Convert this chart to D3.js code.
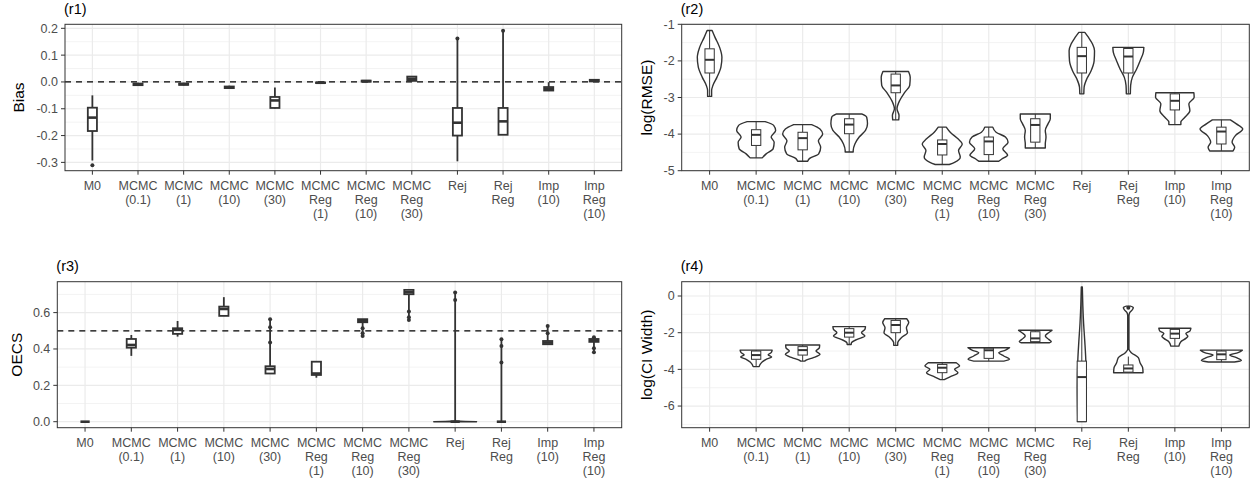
<!DOCTYPE html>
<html>
<head>
<meta charset="utf-8">
<script src="https://cdn.jsdelivr.net/npm/d3@7"></script>
<style>
body { margin: 0; background: #fff; }
svg { display: block; font-family: "Liberation Sans", Arial, sans-serif; }
</style>
</head>
<body>
<svg></svg>
<script>
var width = 1254,
    height = 484;
var svg = d3.select("svg")
    .attr("width", width)
    .attr("height", height);

// categories (x axis, same for all four panels)
var methods = ["M0", "MCMC\n(0.1)", "MCMC\n(1)", "MCMC\n(10)", "MCMC\n(30)",
    "MCMC\nReg\n(1)", "MCMC\nReg\n(10)", "MCMC\nReg\n(30)",
    "Rej", "Rej\nReg", "Imp\n(10)", "Imp\nReg\n(10)"];

// box stats per method: [lower whisker, q1, median, q3, upper whisker]
// (r1) Bias
var biasBox = [
    [-0.293, -0.183, -0.133, -0.096, -0.05],
    [-0.014, -0.012, -0.009, -0.006, -0.003],
    [-0.013, -0.011, -0.008, -0.006, -0.003],
    [-0.025, -0.023, -0.02, -0.017, -0.014],
    [-0.099, -0.097, -0.069, -0.056, -0.021],
    [-0.005, -0.004, -0.003, -0.002, -0.001],
    [-0.001, 0.001, 0.003, 0.005, 0.007],
    [0.002, 0.004, 0.012, 0.02, 0.022],
    [-0.296, -0.2, -0.152, -0.097, 0.162],
    [-0.197, -0.197, -0.147, -0.097, 0.191],
    [-0.034, -0.032, -0.026, -0.019, -0.001],
    [0.0, 0.002, 0.005, 0.008, 0.011]
];
var biasOut = [[-0.311], [], [], [], [], [], [], [], [0.162], [0.191], [], []];
var biasTicks = [-0.3, -0.2, -0.1, 0.0, 0.1, 0.2];
var biasMinor = [-0.25, -0.15, -0.05, 0.05, 0.15];

// (r2) log(RMSE)
var rmseBox = [
    [-2.97, -2.33, -1.97, -1.67, -1.17],
    [-4.65, -4.31, -4.02, -3.88, -3.66],
    [-4.74, -4.43, -4.11, -3.95, -3.74],
    [-4.49, -3.99, -3.74, -3.58, -3.45],
    [-3.61, -2.87, -2.67, -2.36, -2.29],
    [-4.83, -4.57, -4.27, -4.16, -3.81],
    [-4.74, -4.56, -4.2, -4.08, -3.81],
    [-4.38, -4.22, -3.75, -3.58, -3.45],
    [-2.9, -2.33, -1.87, -1.63, -1.22],
    [-2.9, -2.33, -1.88, -1.66, -1.63],
    [-3.74, -3.34, -3.09, -2.9, -2.87],
    [-4.46, -4.27, -3.93, -3.81, -3.61]
];
// violin outlines: [value, density] from top to bottom
var rmseViolin = [
    [[-1.17, 2.5], [-1.35, 5.3], [-1.63, 10], [-1.9, 12.3], [-2.17, 11.3], [-2.45, 7.3], [-2.67, 3.3], [-2.81, 2], [-2.97, 2]],
    [[-3.66, 9], [-3.76, 17.5], [-3.9, 19.5], [-4.08, 15], [-4.22, 18], [-4.4, 17], [-4.54, 10], [-4.65, 6]],
    [[-3.74, 9], [-3.86, 17.3], [-4.0, 20], [-4.18, 15.7], [-4.36, 18], [-4.54, 16], [-4.67, 6.7], [-4.74, 5]],
    [[-3.45, 12.5], [-3.54, 17.5], [-3.72, 18.3], [-3.9, 16.3], [-4.08, 10], [-4.27, 5.7], [-4.45, 4], [-4.49, 4]],
    [[-2.29, 12.8], [-2.45, 14.5], [-2.67, 14], [-2.86, 9], [-3.08, 4], [-3.31, 1.3], [-3.49, 3.3], [-3.61, 3]],
    [[-3.81, 4], [-3.95, 8], [-4.13, 15.7], [-4.27, 20], [-4.45, 16.3], [-4.63, 18], [-4.77, 12.3], [-4.83, 7]],
    [[-3.81, 4], [-3.95, 7.3], [-4.08, 16.7], [-4.22, 19.3], [-4.4, 14], [-4.58, 18.8], [-4.68, 13], [-4.74, 10]],
    [[-3.45, 15], [-3.58, 15], [-3.72, 12.7], [-3.9, 10], [-4.08, 10.7], [-4.27, 10], [-4.38, 10]],
    [[-1.22, 3], [-1.36, 6.7], [-1.54, 10.7], [-1.72, 12.7], [-2.0, 12.3], [-2.27, 9.3], [-2.49, 5], [-2.72, 2.3], [-2.9, 2]],
    [[-1.63, 15.5], [-1.77, 15], [-2.0, 11.7], [-2.22, 8.3], [-2.45, 4], [-2.67, 2.3], [-2.9, 2]],
    [[-2.87, 19], [-2.99, 19.3], [-3.17, 14], [-3.36, 15], [-3.54, 10], [-3.67, 6], [-3.74, 6]],
    [[-3.61, 9], [-3.72, 15], [-3.86, 21.3], [-4.04, 14], [-4.22, 10.7], [-4.36, 13.3], [-4.46, 11.7]]
];
var rmseTicks = [-5, -4, -3, -2, -1];
var rmseMinor = [-4.5, -3.5, -2.5, -1.5];

// (r3) OECS
var oecsBox = [
    [0, 0, 0, 0, 0],
    [0.362, 0.407, 0.422, 0.455, 0.477],
    [0.468, 0.483, 0.505, 0.514, 0.554],
    [0.582, 0.582, 0.62, 0.633, 0.685],
    [0.263, 0.265, 0.29, 0.305, 0.564],
    [0.242, 0.257, 0.265, 0.33, 0.33],
    [0.472, 0.547, 0.553, 0.564, 0.564],
    [0.56, 0.701, 0.712, 0.725, 0.725],
    [0, 0, 0, 0, 0.71],
    [0, 0, 0, 0, 0.453],
    [0.426, 0.426, 0.435, 0.444, 0.527],
    [0.382, 0.439, 0.447, 0.455, 0.465]
];
var oecsOut = [[], [], [], [], [0.564, 0.52, 0.435], [], [0.514, 0.487, 0.472],
    [0.606, 0.575, 0.56], [0.71, 0.67], [0.453, 0.417, 0.325], [0.527, 0.487], [0.465, 0.404, 0.382]];
var oecsViolin = [null, null, null, null, null, null, null, null,
    [[0.004, 0.3], [0.002, 10], [0, 21.5]],
    null, null, null];
var oecsTicks = [0.0, 0.2, 0.4, 0.6];
var oecsMinor = [0.1, 0.3, 0.5, 0.7];

// (r4) log(CI Width)  -- M0 has nothing drawn
var ciBox = [
    null,
    [-3.85, -3.45, -3.22, -3.0, -2.95],
    [-3.55, -3.22, -2.95, -2.76, -2.67],
    [-2.64, -2.24, -2.0, -1.78, -1.67],
    [-2.69, -2.0, -1.58, -1.33, -1.24],
    [-4.56, -4.18, -3.91, -3.73, -3.64],
    [-3.55, -3.4, -2.96, -2.85, -2.82],
    [-2.55, -2.49, -2.31, -1.95, -1.87],
    [-6.85, -6.85, -4.42, -3.55, 0.49],
    [-4.18, -4.15, -3.95, -3.76, -3.3],
    [-2.73, -2.31, -2.05, -1.82, -1.76],
    [-3.6, -3.47, -3.18, -3.0, -2.95]
];
var ciOut = [[], [], [], [], [], [], [], [], [], [-0.64], [], []];
var ciViolin = [
    null,
    [[-2.95, 16], [-3.09, 15], [-3.2, 12], [-3.33, 15.5], [-3.45, 10], [-3.6, 6], [-3.73, 4], [-3.85, 3]],
    [[-2.67, 17], [-2.82, 16.7], [-3.0, 13.3], [-3.18, 17.3], [-3.36, 10.7], [-3.48, 4], [-3.55, 2]],
    [[-1.67, 16.3], [-1.82, 15.7], [-2.0, 12.3], [-2.18, 15.7], [-2.36, 8], [-2.55, 2.3], [-2.64, 2]],
    [[-1.24, 11], [-1.45, 13], [-1.73, 10.7], [-2.0, 11.7], [-2.27, 5.7], [-2.55, 2], [-2.69, 2]],
    [[-3.64, 14], [-3.82, 17.3], [-4.0, 12.3], [-4.18, 15.7], [-4.42, 7.3], [-4.56, 2]],
    [[-2.82, 20.8], [-2.95, 16.7], [-3.09, 10], [-3.27, 15], [-3.45, 20.7], [-3.55, 15]],
    [[-1.87, 16.7], [-2.0, 13.3], [-2.18, 10], [-2.36, 13.3], [-2.5, 16], [-2.55, 14]],
    [[0.49, 0.5], [-0.5, 1], [-1.5, 1.8], [-2.5, 3], [-3.5, 4], [-5, 4.5], [-6.85, 4]],
    [[-0.55, 2], [-0.62, 5], [-0.75, 4], [-0.95, 1], [-1.1, 0.6], [-2.9, 0.6], [-3.09, 3], [-3.36, 10], [-3.64, 11.7], [-3.91, 14.3], [-4.18, 14.7]],
    [[-1.76, 16], [-1.91, 15], [-2.05, 11], [-2.2, 13], [-2.31, 11], [-2.49, 6], [-2.73, 4]],
    [[-2.95, 21], [-3.09, 16.7], [-3.22, 8.3], [-3.36, 15], [-3.51, 20], [-3.6, 13]]
];
var ciTicks = [-6, -4, -2, 0];
var ciMinor = [-7, -5, -3, -1];

var panels = [
    {title: "(r1)", ylab: "Bias", left: 65, top: 24.3, right: 621.7, bottom: 170.7, ylabX: 19,
        domain: [-0.331, 0.215], ticks: biasTicks, minor: biasMinor, fmt: d => d.toFixed(1),
        box: biasBox, out: biasOut, violin: null, hline: 0, heavy: true},
    {title: "(r2)", ylab: "log(RMSE)", left: 681.7, top: 24.3, right: 1249.3, bottom: 170.7, ylabX: 647,
        domain: [-5, -1], ticks: rmseTicks, minor: rmseMinor, fmt: d => String(d),
        box: rmseBox, out: null, violin: rmseViolin, hline: null, heavy: false},
    {title: "(r3)", ylab: "OECS", left: 57.3, top: 281.7, right: 621.7, bottom: 427.7, ylabX: 17,
        domain: [-0.033, 0.77], ticks: oecsTicks, minor: oecsMinor, fmt: d => d.toFixed(1),
        box: oecsBox, out: oecsOut, violin: oecsViolin, hline: 0.5, heavy: true},
    {title: "(r4)", ylab: "log(CI Width)", left: 681.7, top: 281.7, right: 1249.3, bottom: 427.7, ylabX: 647,
        domain: [-7.18, 0.78], ticks: ciTicks, minor: ciMinor, fmt: d => String(d),
        box: ciBox, out: ciOut, violin: ciViolin, hline: null, heavy: false}
];

panels.forEach(drawPanel);

function drawPanel(p) {
    var g = svg.append("g");
    var x = d3.scalePoint()
        .domain(methods)
        .range([p.left, p.right])
        .padding(0.6);
    var y = d3.scaleLinear()
        .domain(p.domain)
        .range([p.bottom, p.top]);
    var step = x.step();
    var dens = d3.scaleLinear().domain([0, 23.25]).range([0, step / 2]);
    var boxW = step * 0.2;

    var lw = p.heavy ? 1.8 : 1.0,
        medW = p.heavy ? 2.6 : 2.0,
        ink = "#333333";

    // grid
    g.selectAll(".minor").data(p.minor).enter().append("line")
        .attr("x1", p.left).attr("x2", p.right)
        .attr("y1", d => y(d)).attr("y2", d => y(d))
        .attr("stroke", "#EBEBEB").attr("stroke-width", 0.6);
    g.selectAll(".major").data(p.ticks).enter().append("line")
        .attr("x1", p.left).attr("x2", p.right)
        .attr("y1", d => y(d)).attr("y2", d => y(d))
        .attr("stroke", "#EBEBEB").attr("stroke-width", 1.2);
    g.selectAll(".vgrid").data(methods).enter().append("line")
        .attr("x1", d => x(d)).attr("x2", d => x(d))
        .attr("y1", p.top).attr("y2", p.bottom)
        .attr("stroke", "#EBEBEB").attr("stroke-width", 1.2);

    // reference line
    if (p.hline !== null) {
        g.append("line")
            .attr("x1", p.left).attr("x2", p.right)
            .attr("y1", y(p.hline)).attr("y2", y(p.hline))
            .attr("stroke", "#000").attr("stroke-width", 1.3)
            .attr("stroke-dasharray", "6,5");
    }

    var area = d3.area()
        .curve(d3.curveMonotoneY)
        .y(d => y(d[0]));

    methods.forEach(function(m, i) {
        var cx = x(m);
        if (p.violin && p.violin[i]) {
            area.x0(d => cx - dens(d[1])).x1(d => cx + dens(d[1]));
            g.append("path")
                .attr("d", area(p.violin[i]))
                .attr("fill", "#fff")
                .attr("stroke", ink)
                .attr("stroke-width", 1.4)
                .attr("stroke-linejoin", "round");
        }
        var b = p.box[i];
        if (!b) return;
        g.append("line")
            .attr("x1", cx).attr("x2", cx)
            .attr("y1", y(b[0])).attr("y2", y(b[1]))
            .attr("stroke", ink).attr("stroke-width", lw);
        g.append("line")
            .attr("x1", cx).attr("x2", cx)
            .attr("y1", y(b[3])).attr("y2", y(b[4]))
            .attr("stroke", ink).attr("stroke-width", lw);
        g.append("rect")
            .attr("x", cx - boxW / 2).attr("width", boxW)
            .attr("y", y(b[3])).attr("height", Math.max(0, y(b[1]) - y(b[3])))
            .attr("fill", "#fff").attr("stroke", ink).attr("stroke-width", lw);
        g.append("line")
            .attr("x1", cx - boxW / 2).attr("x2", cx + boxW / 2)
            .attr("y1", y(b[2])).attr("y2", y(b[2]))
            .attr("stroke", ink).attr("stroke-width", medW);
        if (p.out && p.out[i].length) {
            g.selectAll(null).data(p.out[i]).enter().append("circle")
                .attr("cx", cx).attr("cy", d => y(d))
                .attr("r", 2).attr("fill", ink);
        }
    });

    // border
    g.append("rect")
        .attr("x", p.left).attr("y", p.top)
        .attr("width", p.right - p.left).attr("height", p.bottom - p.top)
        .attr("fill", "none").attr("stroke", "#333333").attr("stroke-width", 1);

    // y axis
    g.selectAll(".ytick").data(p.ticks).enter().append("line")
        .attr("x1", p.left - 4).attr("x2", p.left)
        .attr("y1", d => y(d)).attr("y2", d => y(d))
        .attr("stroke", "#333333");
    g.selectAll(".ylab").data(p.ticks).enter().append("text")
        .attr("x", p.left - 7).attr("y", d => y(d))
        .attr("dy", "0.35em")
        .attr("text-anchor", "end")
        .attr("font-size", 12.5)
        .attr("fill", "#4D4D4D")
        .text(p.fmt);

    // x axis
    g.selectAll(".xtick").data(methods).enter().append("line")
        .attr("x1", d => x(d)).attr("x2", d => x(d))
        .attr("y1", p.bottom).attr("y2", p.bottom + 4)
        .attr("stroke", "#333333");
    var xl = g.selectAll(".xlab").data(methods).enter().append("text")
        .attr("text-anchor", "middle")
        .attr("font-size", 12.5)
        .attr("fill", "#4D4D4D");
    xl.each(function(d) {
        var t = d3.select(this);
        d.split("\n").forEach(function(s, k) {
            t.append("tspan")
                .attr("x", x(d))
                .attr("y", p.bottom + 19.5 + k * 14)
                .text(s);
        });
    });

    // titles
    g.append("text")
        .attr("x", p.left - 1).attr("y", p.top - 10.5)
        .attr("font-size", 14.5)
        .attr("fill", "#000")
        .text(p.title);
    g.append("text")
        .attr("transform", "translate(" + p.ylabX + "," + ((p.top + p.bottom) / 2) + ") rotate(-90)")
        .attr("text-anchor", "middle")
        .attr("dy", "0.35em")
        .attr("font-size", 15.5)
        .attr("fill", "#000")
        .text(p.ylab);
}
</script>
</body>
</html>
